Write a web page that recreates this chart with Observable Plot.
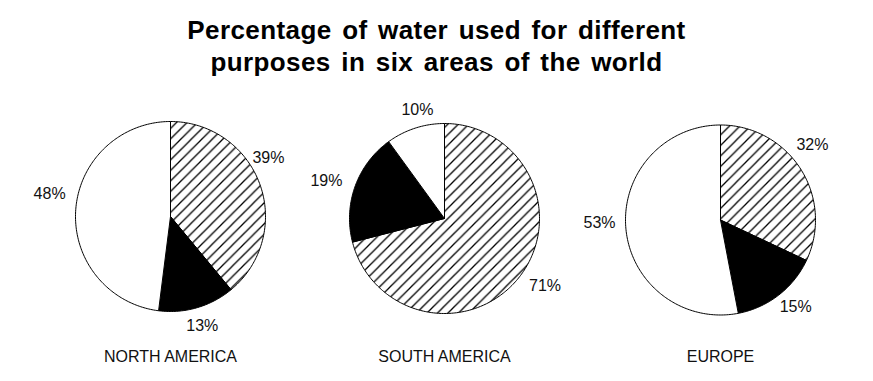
<!DOCTYPE html>
<html>
<head>
<meta charset="utf-8">
<script src="https://cdn.jsdelivr.net/npm/d3@7"></script>
<script src="https://cdn.jsdelivr.net/npm/@observablehq/plot@0.6"></script>
<style>
  html, body { margin: 0; padding: 0; background: #fff; }
  #wrap { position: relative; width: 873px; height: 381px; overflow: hidden; }
  #title {
    position: absolute; left: 0; top: 14px; width: 873px; height: 74px;
    text-align: center; font-family: "Liberation Sans", Arial, sans-serif;
    font-weight: bold; font-size: 26px; line-height: 32px; color: #000;
    letter-spacing: 0.4px; word-spacing: 3px;
  }
  #chart { position: absolute; left: 0; top: 88px; }
</style>
</head>
<body>
<div id="wrap">
  <div id="title">Percentage of water used for different<br>purposes in six areas of the world</div>
  <div id="chart"></div>
</div>
<script>
// ---- data ----
const regions = ["NORTH AMERICA", "SOUTH AMERICA", "EUROPE"];
const kinds = ["hatch", "black", "white"];           // clockwise from 12 o'clock
const hatchedPct = [39, 71, 32];
const blackPct = [13, 19, 15];
const whitePct = [48, 10, 53];

// ---- layout (pixels) ----
const W = 873, H = 293;
const centersX = [170, 444, 720];
const centersY = [128, 130, 131.5];
const R = 95;
const regionLabelY = 268.5;
// label placement: nudge (deg) from slice mid-angle and distance from centre
const labelNudge = [[-11, 0, 7], [-4, -2, 4], [-7, -3, 4]];
const labelDist = [[114, 114, 123], [121, 124, 112], [119, 115, 121]];

const values = regions.map((_, i) => [hatchedPct[i], blackPct[i], whitePct[i]]);

const polys = [];
const labels = [];
regions.forEach((reg, i) => {
  const total = d3.sum(values[i]);
  let acc = 0;
  values[i].forEach((v, j) => {
    const a0 = acc / total * 2 * Math.PI;
    acc += v;
    const a1 = acc / total * 2 * Math.PI;
    const key = reg + "-" + kinds[j];
    const cx = centersX[i], cy = centersY[i];
    polys.push({key, kind: kinds[j], x: cx, y: cy});
    const n = Math.max(2, Math.ceil((a1 - a0) / (Math.PI / 180)));
    for (let k = 0; k <= n; k++) {
      const a = a0 + (a1 - a0) * k / n;
      polys.push({key, kind: kinds[j], x: cx + R * Math.sin(a), y: cy - R * Math.cos(a)});
    }
    polys.push({key, kind: kinds[j], x: cx, y: cy});
    const mid = (a0 + a1) / 2 + labelNudge[i][j] * Math.PI / 180;
    const d = labelDist[i][j];
    labels.push({text: v + "%", x: cx + d * Math.sin(mid), y: cy - d * Math.cos(mid)});
  });
});
const regionLabels = regions.map((r, i) => ({text: r, x: centersX[i], y: regionLabelY}));

const svg = Plot.plot({
  width: W, height: H,
  marginTop: 0, marginRight: 0, marginBottom: 0, marginLeft: 0,
  x: {domain: [0, W], range: [0, W], axis: null},
  y: {domain: [0, H], range: [0, H], axis: null},
  color: {type: "ordinal", domain: kinds, range: ["url(#hatch)", "#000000", "#ffffff"]},
  style: {fontFamily: "'Liberation Sans', Arial, sans-serif", background: "#fff"},
  marks: [
    Plot.line(polys, {x: "x", y: "y", z: "key", fill: "kind", stroke: "#000", strokeWidth: 1, curve: "linear", strokeLinejoin: "round"}),
    Plot.text(labels, {x: "x", y: "y", text: "text", fontSize: 16, fill: "#111"}),
    Plot.text(regionLabels, {x: "x", y: "y", text: "text", fontSize: 16, fill: "#111"})
  ]
});

const ns = "http://www.w3.org/2000/svg";
const S = 10.5;
const defs = document.createElementNS(ns, "defs");
const pat = document.createElementNS(ns, "pattern");
pat.setAttribute("id", "hatch");
pat.setAttribute("patternUnits", "userSpaceOnUse");
pat.setAttribute("width", S);
pat.setAttribute("height", S);
const bg = document.createElementNS(ns, "rect");
bg.setAttribute("width", S); bg.setAttribute("height", S); bg.setAttribute("fill", "#fff");
const p = document.createElementNS(ns, "path");
p.setAttribute("d", `M-1,1 L1,-1 M0,${S} L${S},0 M${S - 1},${S + 1} L${S + 1},${S - 1}`);
p.setAttribute("stroke", "#000");
p.setAttribute("stroke-width", "1.3");
pat.appendChild(bg);
pat.appendChild(p);
defs.appendChild(pat);
svg.insertBefore(defs, svg.firstChild);

document.getElementById("chart").appendChild(svg);
</script>
</body>
</html>
